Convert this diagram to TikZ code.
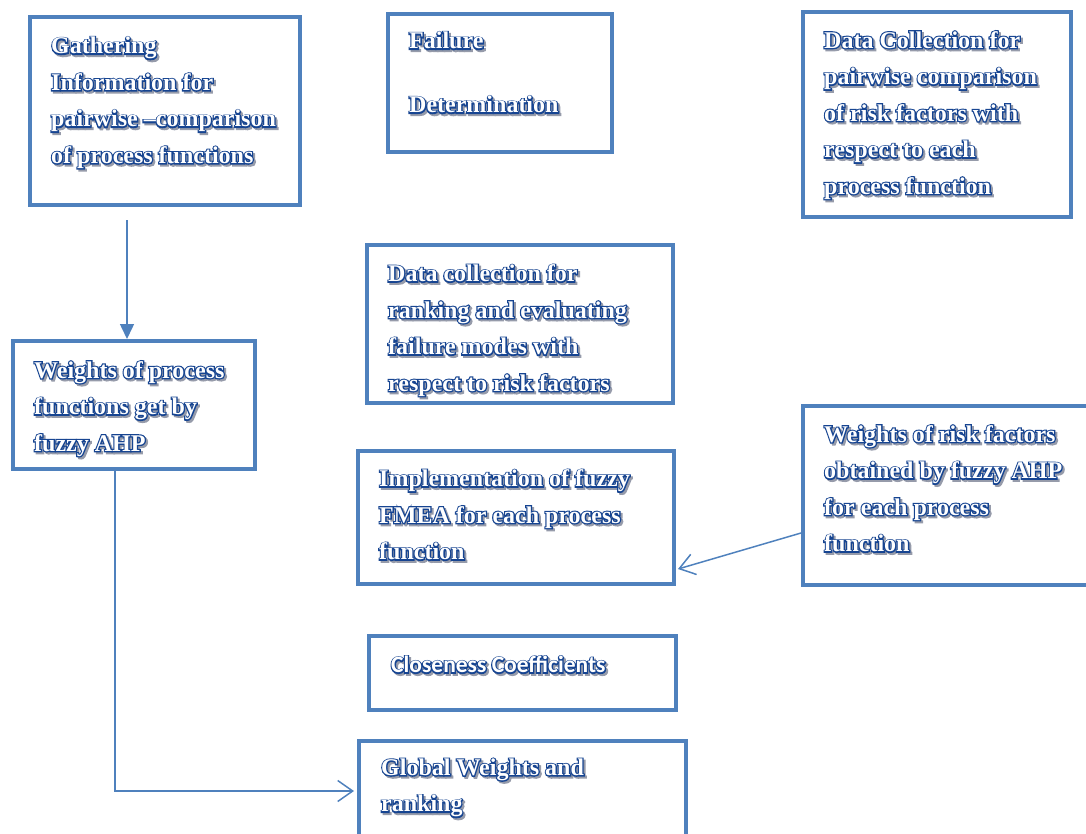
\documentclass[tikz,border=0pt]{standalone}
\usepackage{fontspec}
\setmainfont{Liberation Serif}
\newfontfamily\rimserif{Liberation Serif Bold}[FakeBold=10]
\newfontfamily\fillserif{Liberation Serif Bold}
\newfontfamily\rimcalib{Carlito Bold}[FakeBold=10]
\newfontfamily\fillcalib{Carlito Bold}
\usetikzlibrary{arrows.meta,calc}

\definecolor{frame}{RGB}{79,129,189}
\definecolor{ink}{RGB}{22,68,145}
\definecolor{shade}{RGB}{150,155,170}

\tikzset{
  panel/.style={draw=frame, line width=4pt, rectangle, inner sep=0pt, fill=white},
  txtbase/.style={anchor=north west, inner sep=0pt, align=left},
  serifrim/.style={font=\rimserif\fontsize{24}{36.5}\selectfont},
  seriffill/.style={font=\fillserif\fontsize{24}{36.5}\selectfont},
  sansrim/.style={font=\rimcalib\fontsize{23.5}{30}\selectfont},
  sansfill/.style={font=\fillcalib\fontsize{23.5}{30}\selectfont},
  shadowtxt/.style={txtbase, text=shade},
  rimtxt/.style={txtbase, text=ink},
  filltxt/.style={txtbase, text=white},
  link/.style={draw=frame, line width=1.5pt},
  barb/.style={link, -{Straight Barb[length=15pt,width=21pt,line width=1.5pt]}},
  solidtip/.style={link, -{Triangle[length=15pt,width=14pt]}},
}

% \panel{name}{x1}{y1}{x2}{y2}
\newcommand\panel[5]{%
  \node[panel, minimum width=#4pt-#2pt, minimum height=#5pt-#3pt]
    (#1) at ({(#2+#4)/2},{(#3+#5)/2}) {};}
% hollow lettering with a soft drop shadow:
% \boxlabel{rim style}{fill style}{name}{x}{y}{text}
\newcommand\boxlabel[6]{%
  \node[shadowtxt,#1] (#3-sh) at ({#4+2},{#5+2}) {#6};
  \node[rimtxt,#1] (#3) at (#4,#5) {#6};
  \node[filltxt,#2] (#3-in) at (#4,#5) {#6};}
\newcommand\serifbox{\boxlabel{serifrim}{seriffill}}

\begin{document}
\begin{tikzpicture}[x=1pt,y=-1pt]
\useasboundingbox (0,0) rectangle (1086,833);

% boxes
\panel{gather}{30}{17}{300}{205}
\panel{failure}{388}{14}{612}{152}
\panel{riskdata}{803}{12}{1071}{217}
\panel{procw}{13}{341}{255}{469}
\panel{ranking}{367}{245}{673}{403}
\panel{riskw}{803}{406}{1096}{585}
\panel{fmea}{358}{451}{674}{584}
\panel{close}{369}{636}{676}{710}
\panel{global}{359}{741}{686}{846}

% box texts
\serifbox{gather-t}{51}{37}{Gathering\\Information for\\pairwise –comparison\\of process functions}
\serifbox{failure-t}{409}{32}{Failure\\[27.5pt]Determination}
\serifbox{riskdata-t}{824}{31}{Data Collection for\\pairwise comparison\\of risk factors with\\respect to each\\process function}
\serifbox{procw-t}{34}{361}{Weights of process\\functions get by\\fuzzy AHP}
\serifbox{ranking-t}{388}{264.5}{Data collection for\\ranking and evaluating\\failure modes with\\respect to risk factors}
\serifbox{riskw-t}{824}{425}{Weights of risk factors\\obtained by fuzzy AHP\\for each process\\function}
\serifbox{fmea-t}{379}{469.5}{Implementation of fuzzy\\FMEA for each process\\function}
\boxlabel{sansrim}{sansfill}{close-t}{391}{656}{Closeness Coefficients}
\serifbox{global-t}{381}{758.5}{Global Weights and\\ranking}

% connectors
\draw[solidtip] ($(gather.south west)+(99,13)$) -- ($(procw.north west)+(116,0)$);
\draw[barb] ($(riskw.north west)+(0,129)$) -- ($(fmea.north east)+(2,120)$);
\draw[barb] ($(procw.south west)+(104,0)$) |- ($(global.north west)+(-3,52)$);
\end{tikzpicture}
\end{document}
